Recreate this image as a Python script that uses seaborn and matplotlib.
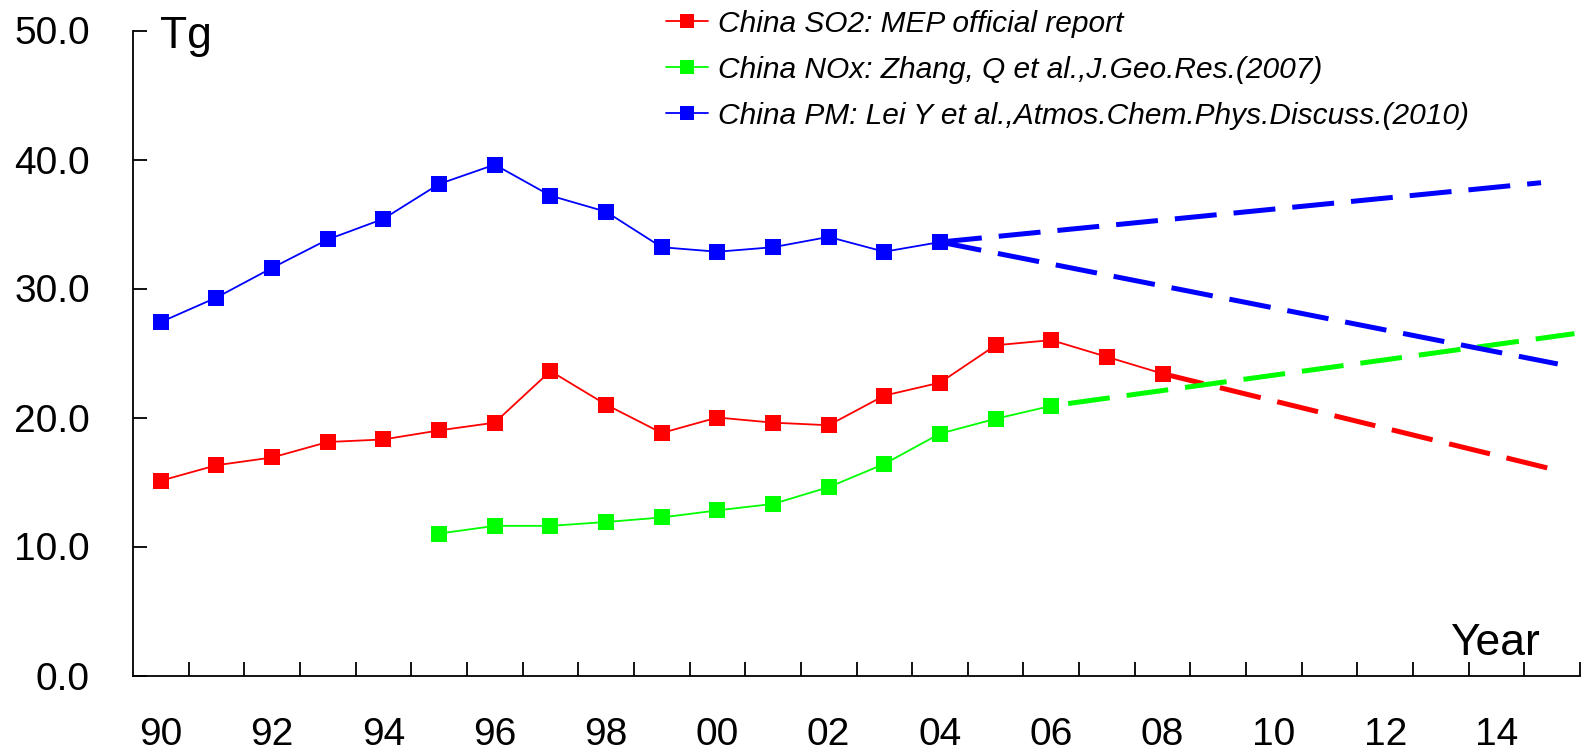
import matplotlib
matplotlib.use("Agg")
import matplotlib.pyplot as plt
import seaborn as sns
import pandas as pd
import numpy as np

# Emission series (Tg)
so2_years = list(range(1990, 2009))
so2_values = [15.1, 16.3, 16.9, 18.1, 18.3, 19.0, 19.6, 23.6, 21.0, 18.8,
              20.0, 19.6, 19.4, 21.7, 22.7, 25.6, 26.0, 24.7, 23.4]

nox_years = list(range(1995, 2007))
nox_values = [11.0, 11.6, 11.6, 11.9, 12.25, 12.8, 13.3, 14.6, 16.4, 18.75,
              19.9, 20.9]

pm_years = list(range(1990, 2005))
pm_values = [27.4, 29.3, 31.6, 33.8, 35.4, 38.1, 39.6, 37.2, 35.95, 33.2,
             32.85, 33.2, 34.0, 32.85, 33.6]

# Projected trends (start, end)
so2_proj_years = [2008, 2015.0]
so2_proj_values = [23.4, 16.0]
nox_proj_years = [2006, 2015.4]
nox_proj_values = [20.9, 26.5]
pm_high_years = [2004, 2014.8]
pm_high_values = [33.6, 38.2]
pm_low_years = [2004, 2015.1]
pm_low_values = [33.6, 24.15]

labels = ["China SO2: MEP official report",
          "China NOx: Zhang, Q et al.,J.Geo.Res.(2007)",
          "China PM: Lei Y et al.,Atmos.Chem.Phys.Discuss.(2010)"]
colors = ["#FF0000", "#00FF00", "#0000FF"]

y_ticks = [0, 10, 20, 30, 40, 50]
x_label_years = list(range(1990, 2015, 2))

sns.set_theme(style="white")
plt.rcParams["font.family"] = ["Liberation Sans", "DejaVu Sans"]
plt.rcParams["text.color"] = "black"
plt.rcParams["xtick.color"] = "black"
plt.rcParams["ytick.color"] = "black"
plt.rcParams["xtick.labelcolor"] = "black"
plt.rcParams["ytick.labelcolor"] = "black"

fig = plt.figure(figsize=(15.81, 7.54), dpi=100)
ax = fig.add_axes([133 / 1581, 1 - 675.5 / 754, 1447 / 1581, 645 / 754])

series = [(so2_years, so2_values), (nox_years, nox_values), (pm_years, pm_values)]
for (yrs, vals), lab, col in zip(series, labels, colors):
    df = pd.DataFrame({"year": yrs, "Tg": vals})
    sns.lineplot(data=df, x="year", y="Tg", ax=ax, color=col, label=lab,
                 linewidth=1.3, marker="s", markersize=11.5,
                 markeredgewidth=0, zorder=3)

# dashed trend lines: (years, values, colour, dash offset)
projections = [(so2_proj_years, so2_proj_values, colors[0], 0),
               (nox_proj_years, nox_proj_values, colors[1], 8.4),
               (pm_high_years, pm_high_values, colors[2], 0),
               (pm_low_years, pm_low_values, colors[2], 0)]
for yrs, vals, col, off in projections:
    df = pd.DataFrame({"year": yrs, "Tg": vals})
    sns.lineplot(data=df, x="year", y="Tg", ax=ax, color=col, legend=False,
                 linewidth=3.6, dashes=False, zorder=2)
    ax.lines[-1].set_linestyle((off, (8.4, 3.4)))
    ax.lines[-1].set_dash_capstyle("butt")

ax.set_xlim(1989.5, 2015.5)
ax.set_ylim(0, 50)
ax.set_xlabel("")
ax.set_ylabel("")

for side in ["top", "right"]:
    ax.spines[side].set_visible(False)
for side in ["left", "bottom"]:
    ax.spines[side].set_color("black")
    ax.spines[side].set_linewidth(1.3)

ax.set_yticks(y_ticks)
ax.set_yticklabels([f"{v:.1f}" for v in y_ticks])
ax.tick_params(axis="y", direction="in", length=10, width=1.3, colors="black",
               labelsize=28, pad=31, left=True)

ax.set_xticks(x_label_years)
ax.set_xticklabels([f"{y % 100:02d}" for y in x_label_years])
ax.set_xticks(np.arange(1990.5, 2015.6, 1), minor=True)
ax.tick_params(axis="x", which="major", length=0, labelsize=28, pad=30,
               colors="black")
ax.tick_params(axis="x", which="minor", direction="in", length=10, width=1.3,
               color="black", bottom=True)

fig.text(160 / 1581, 1 - 48 / 754, "Tg", fontsize=32, ha="left",
         va="baseline", color="black")
fig.text(1540 / 1581, 1 - 655 / 754, "Year", fontsize=32, ha="right",
         va="baseline", color="black")

leg = ax.legend(loc="upper left", bbox_to_anchor=(654 / 1581, 1 + 2 / 754),
                bbox_transform=fig.transFigure, frameon=False,
                prop={"style": "italic", "size": 21.5}, handlelength=1.4,
                handletextpad=0.34, labelspacing=0.6, borderaxespad=0,
                markerscale=0.9)
for t in leg.get_texts():
    t.set_color("black")

fig.savefig("out.png", dpi=100, facecolor="white")
